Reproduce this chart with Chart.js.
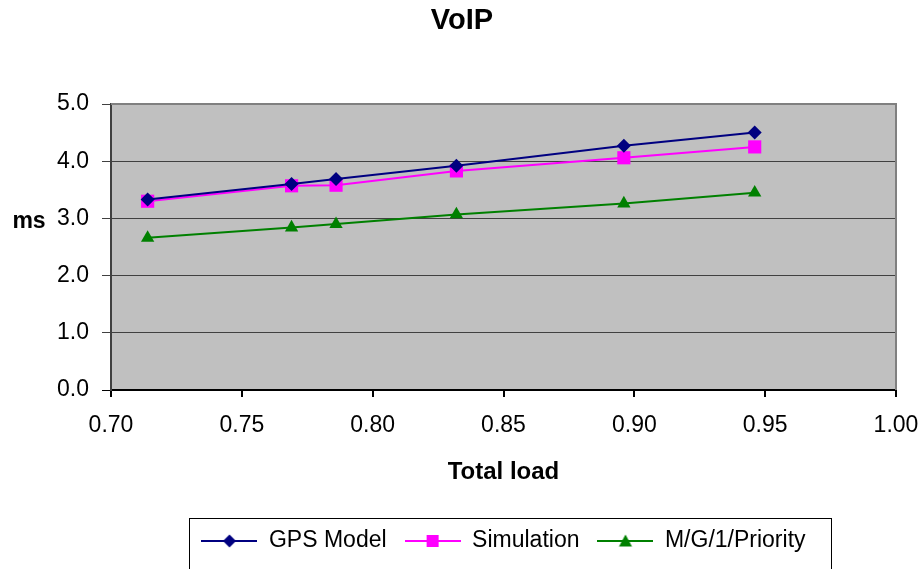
<!DOCTYPE html>
<html>
<head>
<meta charset="utf-8">
<title>VoIP</title>
<script src="https://cdn.jsdelivr.net/npm/chart.js@4.4.1/dist/chart.umd.min.js"></script>
<style>
  html, body { margin: 0; padding: 0; background: #ffffff; }
  canvas { display: block; }
</style>
</head>
<body>
<canvas id="graphique" width="924" height="569"></canvas>
<script>
const loads = [0.714, 0.769, 0.786, 0.832, 0.896, 0.946];
const gpsModel = [3.33, 3.60, 3.69, 3.92, 4.27, 4.50];
const simulation = [3.30, 3.57, 3.58, 3.83, 4.06, 4.25];
const mg1Priority = [2.66, 2.84, 2.90, 3.07, 3.26, 3.45];

const seriesNames = ["GPS Model", "Simulation", "M/G/1/Priority"];
const seriesColors = ["#000080", "#FF00FF", "#008000"];
const seriesStyles = ["rectRot", "rect", "triangle"];
const seriesRadius = [7, 9.3, 7.7];

function toPoints(values) {
    const pts = [];
    for (let i = 0; i < loads.length; i++) {
        pts.push({ x: loads[i], y: values[i] });
    }
    return pts;
}

// small line + marker images for the legend
function legendIcon(color, style) {
    const c = document.createElement("canvas");
    c.width = 56;
    c.height = 20;
    const ctx = c.getContext("2d");
    ctx.strokeStyle = color;
    ctx.fillStyle = color;
    ctx.lineWidth = 2;
    ctx.beginPath();
    ctx.moveTo(0, 10);
    ctx.lineTo(56, 10);
    ctx.stroke();
    ctx.beginPath();
    if (style === "rectRot") {
        ctx.moveTo(28, 3.5); ctx.lineTo(34.5, 10); ctx.lineTo(28, 16.5); ctx.lineTo(21.5, 10);
    } else if (style === "rect") {
        ctx.rect(22, 4, 12, 12);
    } else {
        ctx.moveTo(28, 3.5); ctx.lineTo(34.5, 15.5); ctx.lineTo(21.5, 15.5);
    }
    ctx.closePath();
    ctx.fill();
    return c;
}

const allSeries = [gpsModel, simulation, mg1Priority];
const datasets = [];
for (let i = 0; i < allSeries.length; i++) {
    datasets.push({
        label: seriesNames[i],
        data: toPoints(allSeries[i]),
        borderColor: seriesColors[i],
        backgroundColor: seriesColors[i],
        borderWidth: 2,
        pointStyle: seriesStyles[i],
        pointRadius: seriesRadius[i],
        pointBorderWidth: 0,
        tension: 0
    });
}
const icons = seriesNames.map((n, i) => legendIcon(seriesColors[i], seriesStyles[i]));

const plotArea = {
    id: "plotArea",
    beforeDraw(chart) {
        const a = chart.chartArea;
        const ctx = chart.ctx;
        ctx.save();
        ctx.fillStyle = "#C0C0C0";
        ctx.fillRect(a.left, a.top, a.right - a.left, a.bottom - a.top);
        ctx.restore();
    },
    beforeDatasetsDraw(chart) {
        const a = chart.chartArea;
        const ctx = chart.ctx;
        ctx.save();
        ctx.strokeStyle = "#808080";
        ctx.lineWidth = 2;
        ctx.beginPath();
        ctx.moveTo(a.left, a.top);
        ctx.lineTo(a.right, a.top);
        ctx.lineTo(a.right, a.bottom);
        ctx.stroke();
        ctx.restore();
    },
    afterDraw(chart) {
        const ctx = chart.ctx;
        ctx.save();
        // y axis title, written horizontally
        ctx.fillStyle = "#000000";
        ctx.font = "bold 23px 'Liberation Sans', Arial, sans-serif";
        ctx.textAlign = "center";
        ctx.textBaseline = "middle";
        ctx.fillText("ms", 29, 222);
        // frame round the legend
        const lg = chart.legend;
        const boxes = lg.legendHitBoxes;
        const last = boxes[boxes.length - 1];
        const left = boxes[0].left - 12;
        const right = last.left + last.width + 26;
        ctx.strokeStyle = "#000000";
        ctx.lineWidth = 1;
        ctx.strokeRect(Math.round(left) + 0.5, Math.round(lg.top + 6) + 0.5, Math.round(right - left), 80);
        ctx.restore();
    }
};

Chart.defaults.font.family = "'Liberation Sans', Arial, sans-serif";
Chart.defaults.font.size = 23;
Chart.defaults.color = "#000000";

const config = {
    type: "line",
    data: { datasets: datasets },
    options: {
        responsive: false,
        animation: false,
        layout: { padding: { left: 0, right: 0, top: 0, bottom: 6.5 } },
        scales: {
            x: {
                type: "linear",
                min: 0.7,
                max: 1.0,
                afterFit(scale) {
                    scale.height = 121.5;
                    scale.paddingRight = 28;
                },
                ticks: {
                    stepSize: 0.05,
                    padding: 15,
                    maxRotation: 0,
                    callback: v => v.toFixed(2)
                },
                grid: { drawOnChartArea: false, drawTicks: true, tickLength: 7, color: "#000000", lineWidth: 2 },
                border: { display: true, color: "#000000", width: 2 },
                title: {
                    display: true,
                    text: "Total load",
                    font: { size: 24, weight: "bold" },
                    padding: { top: 0, bottom: 25 }
                }
            },
            y: {
                min: 0,
                max: 5,
                afterFit(scale) { scale.width = 111; },
                ticks: {
                    stepSize: 1,
                    padding: 13,
                    callback: v => v.toFixed(1)
                },
                grid: {
                    drawTicks: true,
                    tickLength: 9,
                    lineWidth: 1,
                    color: ctx => (ctx.tick && ctx.tick.value === 0 ? "#000000" : "#404040")
                },
                border: { display: true, color: "#404040", width: 2 }
            }
        },
        plugins: {
            title: {
                display: true,
                text: "VoIP",
                font: { size: 29, weight: "bold" },
                padding: { top: 4, bottom: 65.2 }
            },
            legend: {
                display: true,
                position: "bottom",
                fullSize: false,
                labels: {
                    font: { size: 23 },
                    padding: 18,
                    usePointStyle: true,
                    pointStyleWidth: 56,
                    generateLabels(chart) {
                        const items = Chart.defaults.plugins.legend.labels.generateLabels(chart);
                        items.forEach((it, i) => { it.pointStyle = icons[i]; });
                        return items;
                    }
                }
            },
            tooltip: { enabled: false }
        }
    },
    plugins: [plotArea]
};

const chart1 = new Chart(document.querySelector("#graphique"), config);
</script>
</body>
</html>
